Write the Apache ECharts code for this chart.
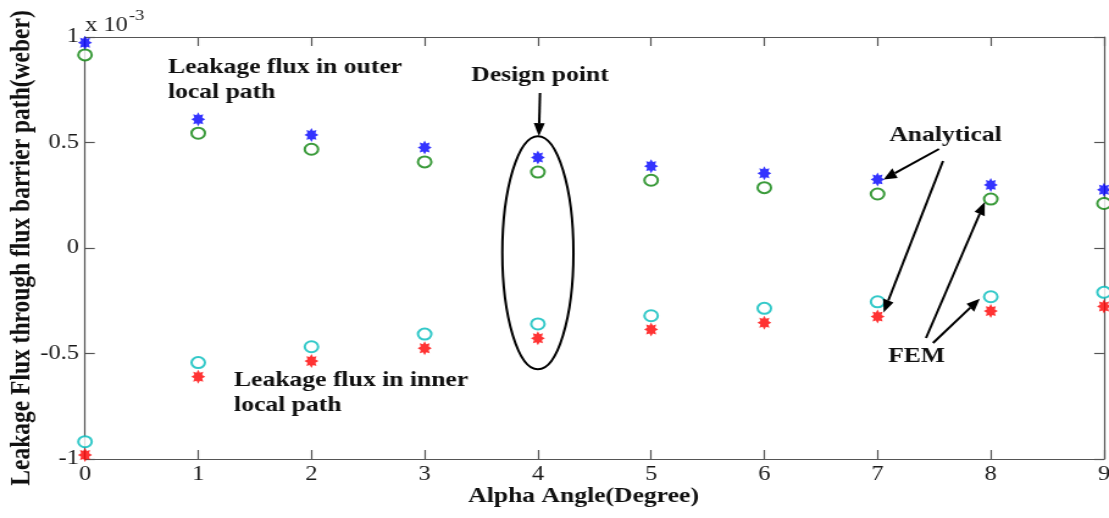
<!DOCTYPE html>
<html>
<head>
<meta charset="utf-8">
<script src="https://cdn.jsdelivr.net/npm/echarts@6/dist/echarts.min.js"></script>
<style>
  html, body { margin: 0; padding: 0; background: #fff; overflow: hidden; width: 1109px; height: 518px; }
  #chart { height: 518px; transform-origin: 0 0; }
</style>
</head>
<body>
<div id="chart"></div>
<script>
// Alpha angle (degree)
const angles = [0, 1, 2, 3, 4, 5, 6, 7, 8, 9];
// Leakage flux, units of 1e-3 weber
const outerAnalytical = [0.973, 0.610, 0.536, 0.476, 0.429, 0.388, 0.354, 0.325, 0.299, 0.276];
const outerFEM        = [0.915, 0.544, 0.468, 0.408, 0.360, 0.321, 0.286, 0.256, 0.232, 0.211];
const innerFEM        = [-0.918, -0.543, -0.468, -0.408, -0.360, -0.321, -0.286, -0.255, -0.231, -0.210];
const innerAnalytical = [-0.981, -0.610, -0.536, -0.475, -0.428, -0.386, -0.354, -0.325, -0.299, -0.277];
const yTickValues = [-1, -0.5, 0, 0.5, 1];
const xTickValues = [0, 1, 2, 3, 4, 5, 6, 7, 8, 9];

// the figure is drawn narrower and widened horizontally
const S = 1.22;
const W = 1109 / S;
const el = document.getElementById('chart');
el.style.width = W + 'px';
el.style.transform = 'scaleX(' + S + ')';
const chart = echarts.init(el, null, { renderer: 'canvas', width: W, height: 518 });

const SERIF = '"Liberation Serif", "Times New Roman", serif';
const AXIS_COLOR = '#555';

// filled eight-point asterisk marker
function starPath(n, inner) {
  let d = '';
  for (let k = 0; k < 2 * n; k++) {
    const r = k % 2 ? inner : 1;
    const a = Math.PI * k / n - Math.PI / 2;
    d += (k ? 'L' : 'M') + (r * Math.cos(a)).toFixed(3) + ' ' + (r * Math.sin(a)).toFixed(3) + ' ';
  }
  return 'path://' + d + 'Z';
}
const STAR = starPath(8, 0.62);

const pairs = arr => angles.map((a, i) => [a, arr[i]]);

const xCommon = {
  type: 'value', min: 0, max: 9, interval: 1,
  splitLine: { show: false },
  axisLine: { show: true, onZero: false, lineStyle: { color: AXIS_COLOR, width: 1.2 } },
  axisTick: { show: true, inside: true, length: 9, lineStyle: { color: AXIS_COLOR, width: 1.2 } }
};
const yCommon = {
  type: 'value', min: -1, max: 1, interval: 0.5,
  splitLine: { show: false },
  axisLine: { show: true, onZero: false, lineStyle: { color: AXIS_COLOR, width: 1.2 } },
  axisTick: { show: true, inside: true, length: 8, lineStyle: { color: AXIS_COLOR, width: 1.2 } }
};

chart.setOption({
  animation: false,
  backgroundColor: '#fff',
  grid: {
    left: 85 / S, right: W - 1104 / S, top: 37, bottom: 59,
    containLabel: false, outerBoundsMode: 'none'
  },
  xAxis: [
    Object.assign({}, xCommon, {
      position: 'bottom',
      axisLabel: {
        fontFamily: SERIF, fontSize: 20, color: '#1a1a1a', margin: 6,
        customValues: xTickValues
      },
      name: 'Alpha Angle(Degree)',
      nameLocation: 'middle',
      nameGap: 27,
      nameMoveOverlap: false,
      nameTextStyle: {
        fontFamily: SERIF, fontSize: 21, fontWeight: 'bold', color: '#111',
        verticalAlign: 'top', padding: [0, 18, 0, 0]
      }
    }),
    Object.assign({}, xCommon, { position: 'top', axisLabel: { show: false } })
  ],
  yAxis: [
    Object.assign({}, yCommon, {
      position: 'left',
      axisLabel: {
        fontFamily: SERIF, fontSize: 20, color: '#1a1a1a', margin: 5,
        customValues: yTickValues
      },
      name: 'Leakage Flux through flux barrier path(weber)',
      nameLocation: 'middle',
      nameRotate: 90,
      nameGap: 40,
      nameMoveOverlap: false,
      nameTextStyle: { fontFamily: SERIF, fontSize: 23.5, fontWeight: 'bold', color: '#111' }
    }),
    Object.assign({}, yCommon, { position: 'right', axisLabel: { show: false } })
  ],
  series: [
    {
      name: 'FEM outer', type: 'scatter', data: pairs(outerFEM), clip: false,
      symbol: 'emptyCircle', symbolSize: 11,
      itemStyle: { color: '#0a820a', borderColor: '#0a820a', borderWidth: 2.3 }
    },
    {
      name: 'FEM inner', type: 'scatter', data: pairs(innerFEM), clip: false,
      symbol: 'emptyCircle', symbolSize: 11,
      itemStyle: { color: '#00bcbc', borderColor: '#00bcbc', borderWidth: 2.3 }
    },
    {
      name: 'Analytical outer', type: 'scatter', data: pairs(outerAnalytical), clip: false,
      symbol: STAR, symbolSize: [11.5, 14],
      itemStyle: { color: '#0000ff' }
    },
    {
      name: 'Analytical inner', type: 'scatter', data: pairs(innerAnalytical), clip: false,
      symbol: STAR, symbolSize: [11.5, 14],
      itemStyle: { color: '#ff0000' }
    }
  ]
});

// ---- annotations: texts, design-point ellipse and arrows ----
const TXT = { fontFamily: SERIF, fontSize: 21, fontWeight: 'bold', fill: '#111' };

// data point -> widened page coordinates
function at(x, y, dx, dy) {
  const p = chart.convertToPixel({ gridIndex: 0 }, [x, y]);
  return [p[0] * S + (dx || 0), p[1] + (dy || 0)];
}

function arrow(tail, head) {
  const dx = head[0] - tail[0], dy = head[1] - tail[1];
  const len = Math.hypot(dx, dy);
  const ux = dx / len, uy = dy / len;
  const L = 13, H = 5.5;
  const base = [head[0] - ux * L, head[1] - uy * L];
  const p1 = [base[0] - uy * H, base[1] + ux * H];
  const p2 = [base[0] + uy * H, base[1] - ux * H];
  const toIn = p => [p[0] / S, p[1]];
  return [
    { type: 'line', silent: true, z: 10,
      shape: { x1: tail[0] / S, y1: tail[1], x2: base[0] / S, y2: base[1] },
      style: { stroke: '#000', lineWidth: 2 } },
    { type: 'polygon', silent: true, z: 10,
      shape: { points: [head, p1, p2].map(toIn) },
      style: { fill: '#000' } }
  ];
}

function label(str, x, y, extra) {
  return {
    type: 'text', silent: true, z: 10, x: x / S, y: y,
    style: Object.assign({}, TXT, { text: str }, extra || {})
  };
}

// ellipse round the design point (alpha = 4)
const ellTop = at(4, 0.53), ellBottom = at(4, -0.575), ellRight = at(4.314, 0);
const ell = {
  cx: ellTop[0] / S,
  cy: (ellTop[1] + ellBottom[1]) / 2,
  rx: (ellRight[0] - ellTop[0]) / S,
  ry: (ellBottom[1] - ellTop[1]) / 2
};

const graphics = [
  { type: 'ellipse', silent: true, z: 10, shape: ell,
    style: { stroke: '#000', fill: null, lineWidth: 2 } },

  label('Leakage flux in outer\nlocal path', 168, 55.5, { lineHeight: 25, verticalAlign: 'top' }),
  label('Leakage flux in inner\nlocal path', 234, 368.5, { lineHeight: 25, verticalAlign: 'top' }),
  label('Design point', 540, 76, { align: 'center', verticalAlign: 'middle' }),
  label('Analytical', 945.5, 135.5, { align: 'center', verticalAlign: 'middle' }),
  label('FEM', 916.5, 357, { align: 'center', verticalAlign: 'middle' }),

  // axis multiplier
  { type: 'text', silent: true, z: 10, x: 85 / S, y: 25.5,
    style: { text: 'x 10', fontFamily: SERIF, fontSize: 20, fill: '#1a1a1a', verticalAlign: 'middle' } },
  { type: 'text', silent: true, z: 10, x: 129 / S, y: 16.5,
    style: { text: '-3', fontFamily: SERIF, fontSize: 15, fill: '#1a1a1a', verticalAlign: 'middle' } }
];

graphics.push(...arrow([540, 93], at(4, 0.53, 1, 0)));
graphics.push(...arrow([939, 149], at(7, outerAnalytical[7], 6, 0)));
graphics.push(...arrow([943, 161], at(7, innerAnalytical[7], 6, -4)));
graphics.push(...arrow([926, 338], at(8, outerFEM[8], -6, 3)));
graphics.push(...arrow([933, 343], at(8, innerFEM[8], -11, 2)));

chart.setOption({ graphic: graphics });
</script>
</body>
</html>
